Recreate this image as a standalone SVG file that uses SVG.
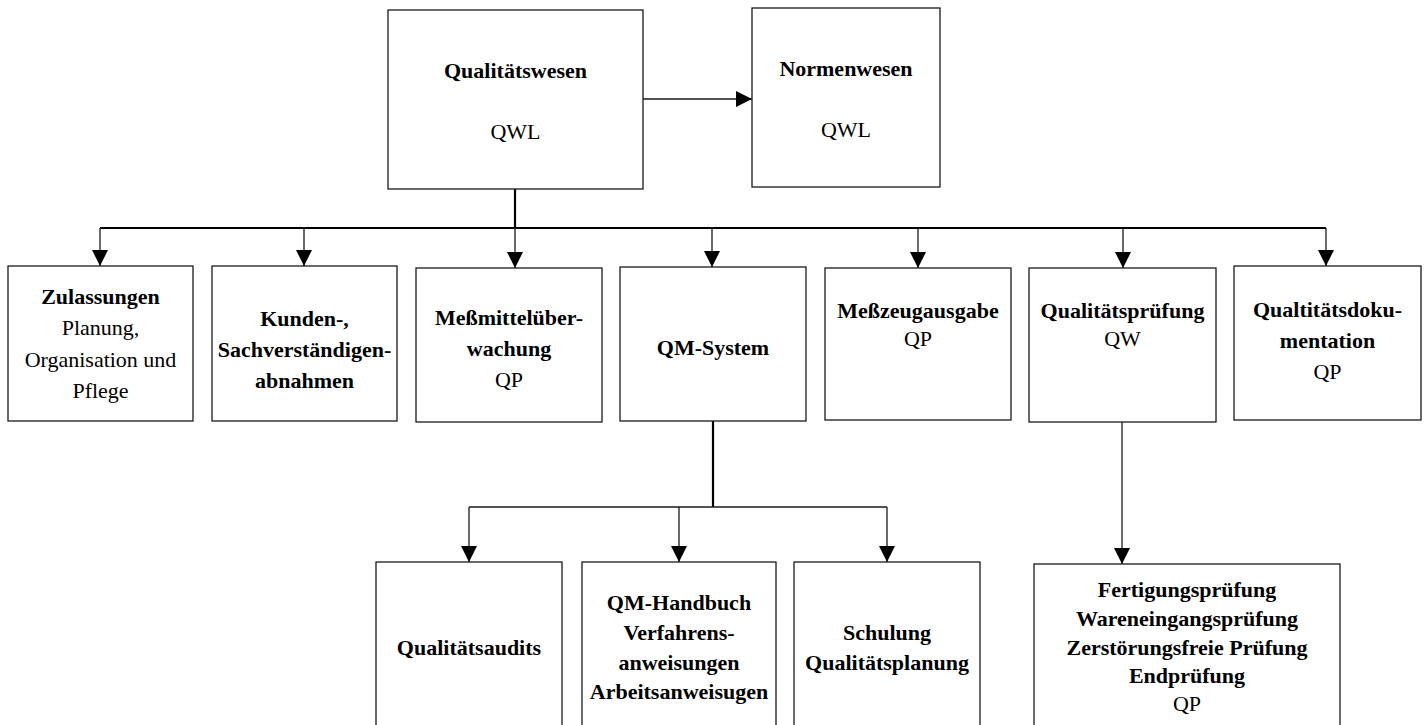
<svg xmlns="http://www.w3.org/2000/svg" width="1425" height="725" viewBox="0 0 1425 725">
  <style>
    .box { fill: #ffffff; stroke: #1a1a1a; stroke-width: 1.3; }
    .line { fill: none; stroke: #1a1a1a; stroke-width: 1.3; }
    .bus { fill: none; stroke: #000000; stroke-width: 2.2; }
    text { font-family: "Liberation Serif", "Times New Roman", serif; font-size: 22px; fill: #000; text-anchor: middle; }
    .b { font-weight: bold; }
  </style>
  <defs>
    <marker id="arrow" markerUnits="userSpaceOnUse" markerWidth="16" markerHeight="16" viewBox="0 0 16 16" refX="16" refY="8" orient="auto">
      <path d="M0,0 L16,8 L0,16 Z" fill="#000"/>
    </marker>
  </defs>
  <rect width="1425" height="725" fill="#ffffff"/>

  <!-- connectors -->
  <g id="connectors">
    <line class="line" x1="643" y1="99" x2="752" y2="99" marker-end="url(#arrow)"/>
    <line class="bus" x1="515" y1="189" x2="515" y2="228"/>
    <line class="bus" x1="100" y1="228" x2="1326" y2="228"/>
    <line class="line" x1="100" y1="228" x2="100" y2="266" marker-end="url(#arrow)"/>
    <line class="line" x1="304" y1="228" x2="304" y2="266" marker-end="url(#arrow)"/>
    <line class="line" x1="515" y1="228" x2="515" y2="268" marker-end="url(#arrow)"/>
    <line class="line" x1="712" y1="228" x2="712" y2="267" marker-end="url(#arrow)"/>
    <line class="line" x1="918" y1="228" x2="918" y2="268" marker-end="url(#arrow)"/>
    <line class="line" x1="1123" y1="228" x2="1123" y2="268" marker-end="url(#arrow)"/>
    <line class="line" x1="1326" y1="228" x2="1326" y2="266" marker-end="url(#arrow)"/>
    <line class="bus" x1="713" y1="421" x2="713" y2="507"/>
    <line class="line" x1="469" y1="507" x2="887" y2="507"/>
    <line class="line" x1="469" y1="507" x2="469" y2="562" marker-end="url(#arrow)"/>
    <line class="line" x1="679" y1="507" x2="679" y2="562" marker-end="url(#arrow)"/>
    <line class="line" x1="887" y1="507" x2="887" y2="562" marker-end="url(#arrow)"/>
    <line class="line" x1="1122" y1="422" x2="1122" y2="564" marker-end="url(#arrow)"/>
  </g>

  <!-- top level -->
  <g id="qualitaetswesen">
    <rect class="box" x="388" y="10" width="255" height="179"/>
    <text class="b" x="515.5" y="78">Qualitätswesen</text>
    <text x="515.5" y="139">QWL</text>
  </g>
  <g id="normenwesen">
    <rect class="box" x="752" y="8" width="188" height="179"/>
    <text class="b" x="846" y="76">Normenwesen</text>
    <text x="846" y="137">QWL</text>
  </g>

  <!-- second level -->
  <g id="zulassungen">
    <rect class="box" x="8" y="266" width="185" height="155"/>
    <text class="b" x="100.5" y="304">Zulassungen</text>
    <text x="100.5" y="335">Planung,</text>
    <text x="100.5" y="367">Organisation und</text>
    <text x="100.5" y="398">Pflege</text>
  </g>
  <g id="kunden">
    <rect class="box" x="212" y="266" width="185" height="155"/>
    <text class="b" x="304.5" y="326">Kunden-,</text>
    <text class="b" x="304.5" y="357">Sachverständigen-</text>
    <text class="b" x="304.5" y="388">abnahmen</text>
  </g>
  <g id="messmittel">
    <rect class="box" x="416" y="268" width="186" height="154"/>
    <text class="b" x="509" y="325">Meßmittelüber-</text>
    <text class="b" x="509" y="356">wachung</text>
    <text x="509" y="387">QP</text>
  </g>
  <g id="qm-system">
    <rect class="box" x="620" y="267" width="186" height="154"/>
    <text class="b" x="713" y="355">QM-System</text>
  </g>
  <g id="messzeug">
    <rect class="box" x="825" y="268" width="186" height="152"/>
    <text class="b" x="918" y="318">Meßzeugausgabe</text>
    <text x="918" y="346">QP</text>
  </g>
  <g id="qualitaetspruefung">
    <rect class="box" x="1029" y="268" width="187" height="154"/>
    <text class="b" x="1122.5" y="318">Qualitätsprüfung</text>
    <text x="1122.5" y="346">QW</text>
  </g>
  <g id="dokumentation">
    <rect class="box" x="1234" y="266" width="187" height="154"/>
    <text class="b" x="1327.5" y="317">Qualtitätsdoku-</text>
    <text class="b" x="1327.5" y="348">mentation</text>
    <text x="1327.5" y="379">QP</text>
  </g>

  <!-- third level -->
  <g id="audits">
    <rect class="box" x="376" y="562" width="186" height="180"/>
    <text class="b" x="469" y="655">Qualitätsaudits</text>
  </g>
  <g id="handbuch">
    <rect class="box" x="582" y="562" width="194" height="180"/>
    <text class="b" x="679" y="610">QM-Handbuch</text>
    <text class="b" x="679" y="640">Verfahrens-</text>
    <text class="b" x="679" y="670">anweisungen</text>
    <text class="b" x="679" y="699">Arbeitsanweisugen</text>
  </g>
  <g id="schulung">
    <rect class="box" x="794" y="562" width="186" height="180"/>
    <text class="b" x="887" y="640">Schulung</text>
    <text class="b" x="887" y="670">Qualitätsplanung</text>
  </g>
  <g id="pruefarten">
    <rect class="box" x="1034" y="564" width="306" height="180"/>
    <text class="b" x="1187" y="597">Fertigungsprüfung</text>
    <text class="b" x="1187" y="626">Wareneingangsprüfung</text>
    <text class="b" x="1187" y="655">Zerstörungsfreie Prüfung</text>
    <text class="b" x="1187" y="683">Endprüfung</text>
    <text x="1187" y="711">QP</text>
  </g>
</svg>
